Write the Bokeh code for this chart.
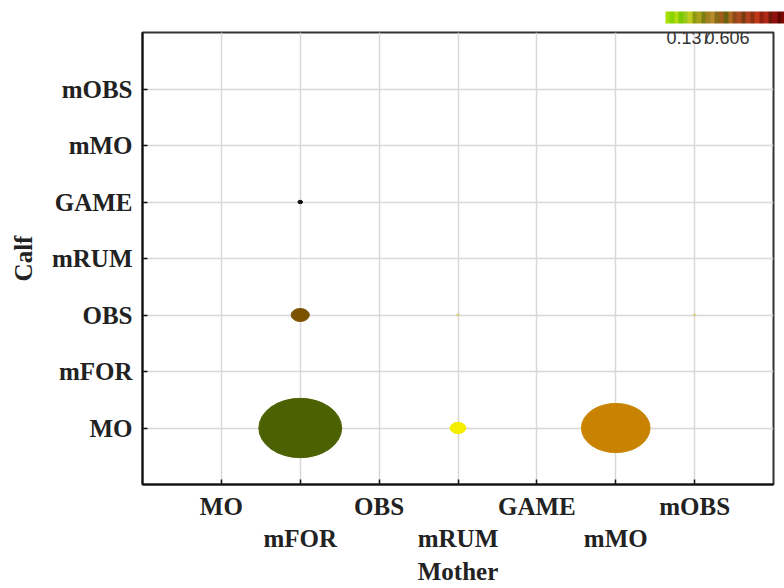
from bokeh.plotting import figure
from bokeh.models import (FixedTicker, Range1d, ColorBar, LinearColorMapper, Label)
from bokeh.embed import file_html
from bokeh.resources import INLINE

# Behaviour categories shared by both axes
categories = ["MO", "mFOR", "OBS", "mRUM", "GAME", "mMO", "mOBS"]

# Observed mother/calf pairs and bubble diameter (in category units)
mother = ["mFOR", "mFOR", "mFOR", "mRUM", "mRUM", "mMO", "mOBS"]
calf = ["MO", "OBS", "GAME", "MO", "OBS", "MO", "OBS"]
share = [1.05, 0.23, 0.06, 0.20, 0.04, 0.87, 0.04]
colors = ["#4b6102", "#7b5300", "#111111", "#f4ee00", "#d6d49a", "#c88400", "#d9d69a"]

# Colour scale limits
scale_low, scale_high = 0.137, 0.606
stripes = ["#a6e000", "#8ad400", "#b4dc10", "#7cc800", "#9cc81c", "#c0cc20",
           "#8c9a10", "#a8a018", "#7a8010", "#a08020", "#b88c28", "#8a6a18",
           "#a05c18", "#6a6010", "#b06a20", "#904818", "#a84c20", "#783c10",
           "#b04020", "#883010", "#c03818", "#902010", "#b02818", "#701808",
           "#901010", "#600800", "#800800", "#500000"]

xs = [categories.index(m) for m in mother]
ys = [categories.index(c) for c in calf]

p = figure(width=784, height=588, output_backend="svg", toolbar_location=None,
           x_range=Range1d(-1, 7), y_range=Range1d(-1, 7),
           min_border_left=142, min_border_right=11, min_border_top=32,
           min_border_bottom=104)

p.ellipse(x=xs, y=ys, width=share, height=share, fill_color=colors,
          line_color=colors, line_width=1)

ticker = FixedTicker(ticks=list(range(len(categories))))
serif = "Liberation Serif"

for ax in (p.xaxis[0], p.yaxis[0]):
    ax.ticker = ticker
    ax.major_label_text_font = serif
    ax.major_label_text_font_style = "bold"
    ax.major_label_text_font_size = "25px"
    ax.major_label_text_color = "#222222"
    ax.axis_label_text_font = serif
    ax.axis_label_text_font_style = "bold"
    ax.axis_label_text_font_size = "25px"
    ax.axis_label_text_color = "#222222"
    ax.major_tick_in = 5
    ax.major_tick_out = 0
    ax.minor_tick_line_color = None
    ax.axis_line_color = "#111111"
    ax.axis_line_width = 2
    ax.major_tick_line_color = "#111111"
    ax.major_tick_line_width = 1.5

# Staggered labels along the bottom axis
p.xaxis[0].major_label_overrides = {
    i: (c if i % 2 == 0 else "\n" + c) for i, c in enumerate(categories)}
p.yaxis[0].major_label_overrides = {i: c for i, c in enumerate(categories)}
p.xaxis[0].major_label_standoff = 8
p.yaxis[0].major_label_standoff = 10
p.xaxis[0].axis_label = "Mother"
p.yaxis[0].axis_label = "Calf"
p.xaxis[0].axis_label_standoff = 3
p.yaxis[0].axis_label_standoff = 12

for g in (p.xgrid[0], p.ygrid[0]):
    g.ticker = ticker
    g.grid_line_color = "#d8d8d8"
    g.grid_line_width = 1.5

p.outline_line_color = "#333333"
p.outline_line_width = 2
p.background_fill_color = "white"
p.border_fill_color = "white"

# Colour bar strip at the top right
mapper = LinearColorMapper(palette=stripes, low=scale_low, high=scale_high)
cb = ColorBar(color_mapper=mapper, orientation="horizontal", width=125, height=12,
              location=(523, 461), padding=0, ticker=FixedTicker(ticks=[]),
              major_tick_line_color=None, minor_tick_line_color=None,
              bar_line_color=None, border_line_color=None,
              background_fill_alpha=0, label_standoff=0,
              major_label_text_font_size="0px")
p.add_layout(cb)

for txt, xpos in ((f"{scale_low:.3f}", 524), (f"{scale_high:.3f}", 562)):
    p.add_layout(Label(x=xpos, y=447, x_units="screen", y_units="screen",
                       text=txt, text_font="Liberation Sans",
                       text_font_size="18px", text_color="#333333",
                       text_baseline="alphabetic"))

open("out.html", "w").write(file_html(p, INLINE))
